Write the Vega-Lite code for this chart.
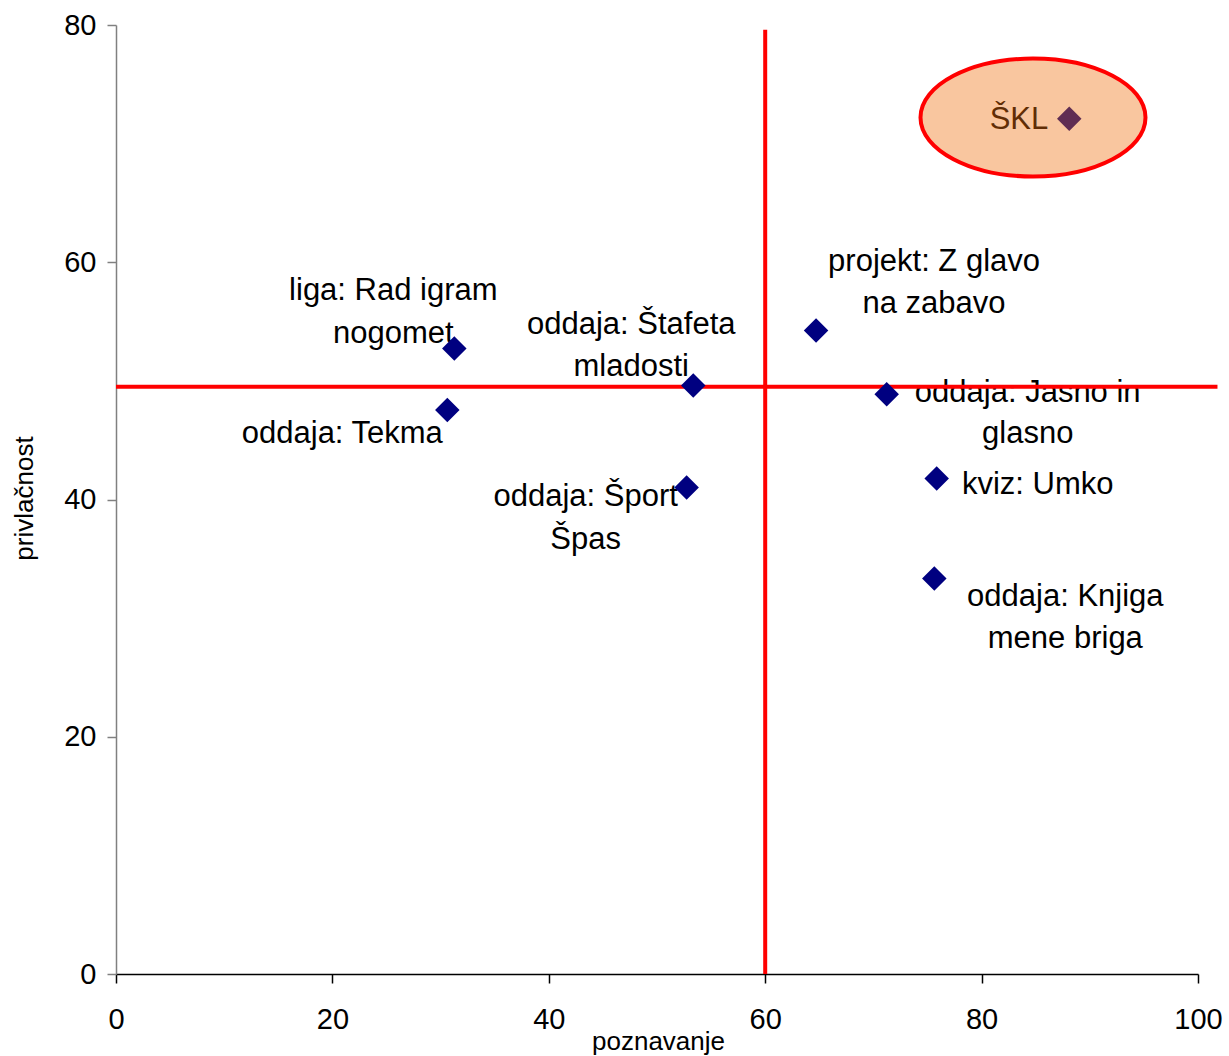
{
  "$schema": "https://vega.github.io/schema/vega-lite/v6.json",
  "width": 1082,
  "height": 949,
  "autosize": {"type": "none"},
  "padding": {"left": 116, "top": 25, "right": 31, "bottom": 82},
  "background": "white",
  "config": {"view": {"stroke": null}, "font": "Liberation Sans"},
  "datasets": {
    "pts": [
      {"name": "SKL", "label": ["ŠKL"], "x": 88.1, "y": 72.1},
      {"name": "liga", "label": ["liga: Rad igram", "nogomet"], "x": 31.27, "y": 52.73},
      {"name": "tekma", "label": ["oddaja: Tekma"], "x": 30.62, "y": 47.55},
      {"name": "stafeta", "label": ["oddaja: Štafeta", "mladosti"], "x": 53.35, "y": 49.6},
      {"name": "sport", "label": ["oddaja: Šport", "Špas"], "x": 52.74, "y": 41.02},
      {"name": "projekt", "label": ["projekt: Z glavo", "na zabavo"], "x": 64.7, "y": 54.25},
      {"name": "jasno", "label": ["oddaja: Jasno in", "glasno"], "x": 71.23, "y": 48.88},
      {"name": "umko", "label": ["kviz: Umko"], "x": 75.85, "y": 41.78},
      {"name": "knjiga", "label": ["oddaja: Knjiga", "mene briga"], "x": 75.63, "y": 33.34}
    ],
    "lines": [
      {"x": 0, "y": 49.5, "x2": 101.8, "y2": 49.5},
      {"x": 60, "y": 0, "x2": 60, "y2": 79.6}
    ],
    "ellipse": [
      {"x": 84.75, "y": 72.2}
    ]
  },
  "data": {"name": "pts"},
  "encoding": {
    "x": {
      "field": "x", "type": "quantitative",
      "scale": {"domain": [0, 100], "nice": false, "zero": false},
      "axis": {
        "title": "poznavanje", "values": [0, 20, 40, 60, 80, 100], "grid": false,
        "domainColor": "#000000", "domainWidth": 1.5, "tickColor": "#000000", "tickWidth": 1.5, "tickSize": 9,
        "labelFontSize": 29, "labelColor": "#000000", "labelPadding": 22, "labelFlush": false, "labelFont": "Liberation Sans",
        "titleFontSize": 26, "titleFontWeight": "normal", "titleColor": "#000000", "titleFont": "Liberation Sans",
        "titleX": 542, "titleY": 75, "titleAlign": "center", "titleBaseline": "alphabetic"
      }
    },
    "y": {
      "field": "y", "type": "quantitative",
      "scale": {"domain": [0, 80], "nice": false, "zero": false},
      "axis": {
        "title": "privlačnost", "values": [0, 20, 40, 60, 80], "grid": false,
        "domainColor": "#808080", "domainWidth": 1.5, "tickColor": "#808080", "tickWidth": 1.5, "tickSize": 9,
        "labelFontSize": 29, "labelColor": "#000000", "labelPadding": 11, "labelFlush": false, "labelFont": "Liberation Sans",
        "titleFontSize": 26, "titleFontWeight": "normal", "titleColor": "#000000", "titleFont": "Liberation Sans",
        "titleX": -84, "titleY": 473, "titleAngle": -90, "titleAlign": "center", "titleBaseline": "alphabetic"
      }
    }
  },
  "layer": [
    {"transform": [{"filter": "datum.name === 'SKL'"}], "mark": {"type": "text", "align": "right", "baseline": "alphabetic", "dx": -21, "dy": 10, "fontSize": 31, "lineHeight": 42, "color": "#000000"}, "encoding": {"text": {"field": "label", "type": "nominal"}}},
    {"transform": [{"filter": "datum.name === 'liga'"}], "mark": {"type": "text", "align": "center", "baseline": "alphabetic", "dx": -61, "dy": -48, "fontSize": 31, "lineHeight": 43, "color": "#000000"}, "encoding": {"text": {"field": "label", "type": "nominal"}}},
    {"transform": [{"filter": "datum.name === 'tekma'"}], "mark": {"type": "text", "align": "center", "baseline": "alphabetic", "dx": -105, "dy": 33, "fontSize": 31, "lineHeight": 42, "color": "#000000"}, "encoding": {"text": {"field": "label", "type": "nominal"}}},
    {"transform": [{"filter": "datum.name === 'stafeta'"}], "mark": {"type": "text", "align": "center", "baseline": "alphabetic", "dx": -62, "dy": -52, "fontSize": 31, "lineHeight": 42, "color": "#000000"}, "encoding": {"text": {"field": "label", "type": "nominal"}}},
    {"transform": [{"filter": "datum.name === 'sport'"}], "mark": {"type": "text", "align": "center", "baseline": "alphabetic", "dx": -101, "dy": 19, "fontSize": 31, "lineHeight": 43, "color": "#000000"}, "encoding": {"text": {"field": "label", "type": "nominal"}}},
    {"transform": [{"filter": "datum.name === 'projekt'"}], "mark": {"type": "text", "align": "center", "baseline": "alphabetic", "dx": 118, "dy": -59, "fontSize": 31, "lineHeight": 42, "color": "#000000"}, "encoding": {"text": {"field": "label", "type": "nominal"}}},
    {"transform": [{"filter": "datum.name === 'jasno'"}], "mark": {"type": "text", "align": "center", "baseline": "alphabetic", "dx": 141, "dy": 8, "fontSize": 31, "lineHeight": 41, "color": "#000000"}, "encoding": {"text": {"field": "label", "type": "nominal"}}},
    {"transform": [{"filter": "datum.name === 'umko'"}], "mark": {"type": "text", "align": "center", "baseline": "alphabetic", "dx": 101, "dy": 16, "fontSize": 31, "lineHeight": 42, "color": "#000000"}, "encoding": {"text": {"field": "label", "type": "nominal"}}},
    {"transform": [{"filter": "datum.name === 'knjiga'"}], "mark": {"type": "text", "align": "center", "baseline": "alphabetic", "dx": 131, "dy": 27, "fontSize": 31, "lineHeight": 42, "color": "#000000"}, "encoding": {"text": {"field": "label", "type": "nominal"}}},
    {
      "data": {"name": "lines"},
      "mark": {"type": "rule", "color": "#ff0000", "strokeWidth": 4, "clip": false},
      "encoding": {"x2": {"field": "x2"}, "y2": {"field": "y2"}}
    },
    {
      "mark": {"type": "point", "shape": "diamond", "filled": true, "color": "#000080", "size": 600, "opacity": 1}
    },
    {
      "data": {"name": "ellipse"},
      "mark": {
        "type": "point",
        "shape": "M-1,0A1,0.524,0,1,0,1,0A1,0.524,0,1,0,-1,0Z",
        "size": 50625, "filled": true,
        "fill": "#f07010", "fillOpacity": 0.4,
        "stroke": "#ff0000", "strokeWidth": 4, "strokeOpacity": 1, "opacity": 1
      }
    }
  ]
}
